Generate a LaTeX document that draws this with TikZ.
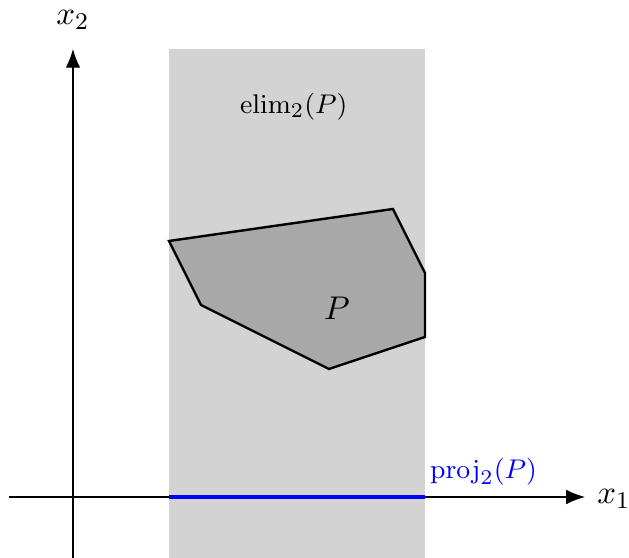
\documentclass[tikz,border=0pt]{standalone}
\usepackage{tikz}
\usetikzlibrary{arrows.meta}
\definecolor{bandgray}{RGB}{211,211,211}
\definecolor{polygray}{RGB}{169,169,169}
\begin{document}
\begin{tikzpicture}[x=0.375cm, y=0.375cm,
  every node/.style={font=\fontsize{9.4pt}{11pt}\selectfont},
  axis/.style={-{Latex[length=2.2mm, width=1.7mm]}, thin},
  poly/.style={draw, thick, line join=miter, fill=polygray},
  lbl/.style={font=\fontsize{11.3pt}{13pt}\selectfont},
]
  \useasboundingbox (-2.28,-1.9) rectangle (17.375,15.53);
  % eliminated set
  \fill[bandgray] (3,-1.9) rectangle (11,14);
  \node (elim) at (6.9,12.2) {$\mathrm{elim}_2(P)$};

  % polytope
  \draw[poly] (3,8) -- (10,9) -- (11,7) -- (11,5) -- (8,4) -- (4,6) -- cycle;
  \node[lbl] (pP) at (8.25,5.9) {$P$};

  % axes
  \coordinate (xs) at (-2,0);
  \coordinate (xe) at (16,0);
  \coordinate (ys) at (0,-1.9);
  \coordinate (ye) at (0,14);
  \draw[axis] (xs) -- (xe);
  \draw[axis] (ys) -- (ye);
  \node[lbl] (x1) at (16.9,-0.05) {$x_1$};
  \node[lbl] (x2) at (0,14.9) {$x_2$};

  % projection
  \coordinate (pa) at (3,0);
  \coordinate (pb) at (11,0);
  \draw[blue, line width=1.5pt] (pa) -- (pb);
  \node[blue, anchor=west, inner sep=1pt] (proj) at (11.05,0.8) {$\mathrm{proj}_2(P)$};
\end{tikzpicture}
\end{document}
